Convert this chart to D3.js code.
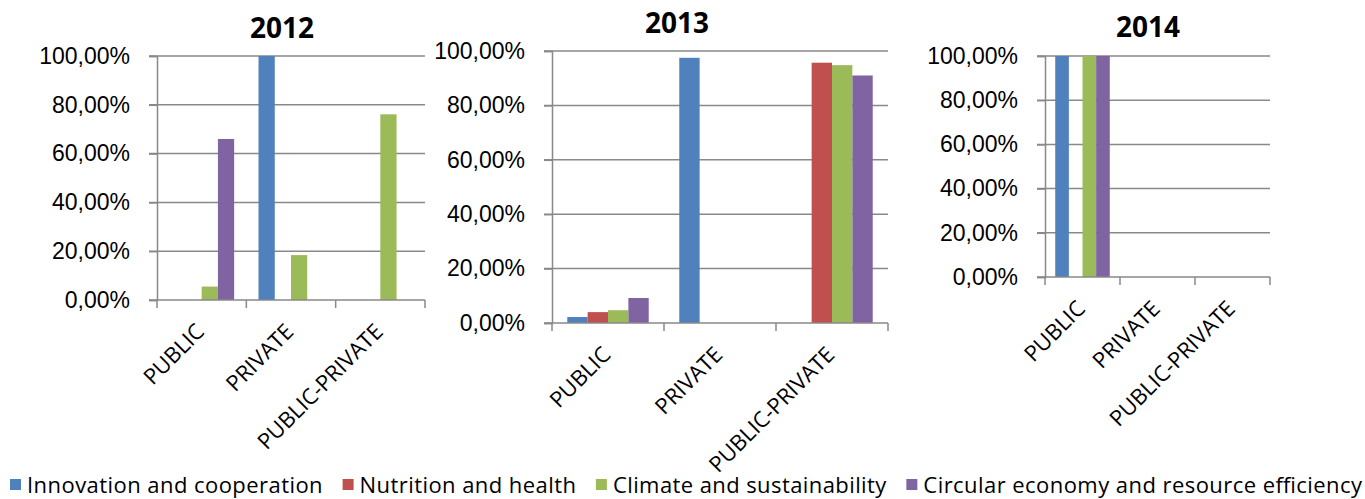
<!DOCTYPE html>
<html>
<head>
<meta charset="utf-8">
<script src="https://cdn.jsdelivr.net/npm/d3@7.9.0/dist/d3.min.js"></script>
<style>
  body { margin: 0; background: #fff; }
  svg { display: block; font-family: "Open Sans", "Noto Sans", sans-serif; }
</style>
</head>
<body>
<svg id="chart" width="1365" height="499"></svg>
<script>
const categories = ['PUBLIC', 'PRIVATE', 'PUBLIC-PRIVATE'];
const seriesNames = ['Innovation and cooperation', 'Nutrition and health', 'Climate and sustainability', 'Circular economy and resource efficiency'];
const seriesColors = ['#4f81bd', '#c0504d', '#9bbb59', '#8064a2'];
const years = ['2012', '2013', '2014'];
const yTicks = [0, 20, 40, 60, 80, 100];

// values[category][series], in percent
const values2012 = [[0, 0, 5.5, 66.0], [100, 0, 18.4, 0], [0, 0, 76.1, 0]];
const values2013 = [[2.2, 4.0, 4.7, 9.2], [97.5, 0, 0, 0], [0, 95.7, 94.8, 91.0]];
const values2014 = [[100, 0, 100, 100], [0, 0, 0, 0], [0, 0, 0, 0]];
const yearValues = [values2012, values2013, values2014];

// panel frames (layout only)
const frames = [
  { left: 157, right: 425, top: 56, bottom: 300, titleX: 282, titleY: 38 },
  { left: 552, right: 888, top: 51, bottom: 323, titleX: 677, titleY: 33 },
  { left: 1045, right: 1270, top: 56, bottom: 277, titleX: 1148, titleY: 37 }
];

const svg = d3.select('#chart');
const grid = '#898989';
const fmt = d => d.toFixed(2).replace('.', ',') + '%';

function drawPanel(year, data, f) {
  const g = svg.append('g');
  const y = d3.scaleLinear().domain([0, 100]).range([f.bottom, f.top]);
  const x0 = d3.scaleBand().domain(categories).range([f.left, f.right]);
  const x1 = d3.scaleBand().domain(d3.range(seriesNames.length))
    .range([0, x0.bandwidth()]).paddingOuter(0.75);

  // gridlines
  g.selectAll('.grid').data(yTicks.filter(t => t > 0)).join('line')
    .attr('x1', f.left - 8).attr('x2', f.right)
    .attr('y1', d => y(d)).attr('y2', d => y(d))
    .attr('stroke', grid).attr('stroke-width', 1.5);

  // y axis
  const yAxis = g.append('g').attr('transform', `translate(${f.left},0)`)
    .call(d3.axisLeft(y).tickValues(yTicks).tickFormat(fmt).tickSize(8).tickPadding(19));
  yAxis.select('.domain').attr('stroke', grid).attr('stroke-width', 1.5);
  yAxis.selectAll('.tick line').attr('stroke', grid).attr('stroke-width', 1.5);
  yAxis.selectAll('.tick text').attr('font-size', 23).attr('fill', '#000');

  // bars
  categories.forEach((c, ci) => {
    g.selectAll(null).data(data[ci].map((v, si) => ({ v, si }))).join('rect')
      .attr('x', d => x0(c) + x1(d.si))
      .attr('width', x1.bandwidth())
      .attr('y', d => y(d.v))
      .attr('height', d => y(0) - y(d.v))
      .attr('fill', d => seriesColors[d.si]);
  });

  // x axis
  g.append('line').attr('x1', f.left - 8).attr('x2', f.right)
    .attr('y1', f.bottom).attr('y2', f.bottom)
    .attr('stroke', grid).attr('stroke-width', 1.5);
  const edges = categories.map(c => x0(c)).concat([f.right]);
  g.selectAll(null).data(edges).join('line')
    .attr('x1', d => d).attr('x2', d => d)
    .attr('y1', f.bottom).attr('y2', f.bottom + 8)
    .attr('stroke', grid).attr('stroke-width', 1.5);

  g.selectAll(null).data(categories).join('text')
    .attr('transform', d => `translate(${x0(d) + x0.bandwidth() / 2 + 4},${f.bottom + 33}) rotate(-45)`)
    .attr('text-anchor', 'end')
    .attr('font-size', 22)
    .text(d => d);

  g.append('text').attr('x', f.titleX).attr('y', f.titleY)
    .attr('text-anchor', 'middle').attr('font-size', 28).attr('font-weight', 'bold')
    .text(year);
}

years.forEach((yr, i) => drawPanel(yr, yearValues[i], frames[i]));

// legend: spread across the width like the original
const legend = svg.append('g');
const sq = 11, sqGap = 6, itemGap = 20, legLeft = 10, legRight = 1362;
const texts = seriesNames.map(name => legend.append('text')
  .attr('y', 493).attr('font-size', 22).text(name));
const natural = texts.map(t => t.node().getComputedTextLength());
const k = (legRight - legLeft - seriesNames.length * (sq + sqGap) - (seriesNames.length - 1) * itemGap) / d3.sum(natural);
let lx = legLeft;
texts.forEach((t, i) => {
  legend.append('rect').attr('x', lx).attr('y', 479).attr('width', sq).attr('height', sq)
    .attr('fill', seriesColors[i]);
  const w = natural[i] * k;
  t.attr('x', lx + sq + sqGap).attr('textLength', w).attr('lengthAdjust', 'spacing');
  lx += sq + sqGap + w + itemGap;
});
</script>
</body>
</html>
